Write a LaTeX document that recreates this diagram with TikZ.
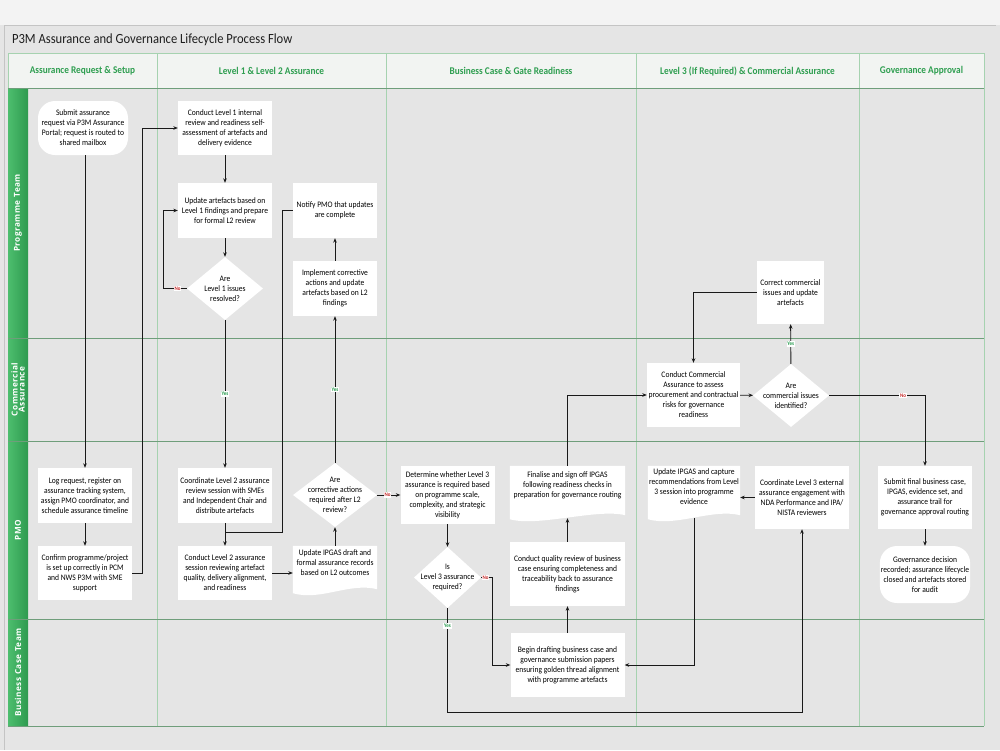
\documentclass[tikz,border=0pt]{standalone}
\usepackage{fontspec}
\setmainfont{Carlito}
\newfontfamily\boxfont{Carlito}[FakeStretch=0.9]
\newfontfamily\lanefont{Open Sans}[LetterSpace=6]
\usetikzlibrary{shapes.geometric,arrows.meta,calc}
\pgfdeclarelayer{under}
\pgfsetlayers{under,main}
\definecolor{bggray}{HTML}{E5E5E5}
\definecolor{topgray}{HTML}{F3F3F3}
\definecolor{framegray}{HTML}{C4C4C4}
\definecolor{hdrfill}{HTML}{F2F4F2}
\definecolor{hdrgreen}{HTML}{2E9E50}
\definecolor{collight}{HTML}{A6D2B0}
\definecolor{lanedark}{HTML}{6F9E7B}
\definecolor{bandlight}{HTML}{4DBE6E}
\definecolor{banddark}{HTML}{2E9A4F}
\definecolor{nored}{HTML}{C62828}
\definecolor{yesgreen}{HTML}{22984A}
\definecolor{titlegray}{HTML}{1E1E1E}
\newcommand{\docshape}[1]{\fill[white] (#1.north west) -- (#1.north east) -- ([yshift=3pt]#1.south east) .. controls ([xshift=-28pt,yshift=10pt]#1.south east) and ([xshift=28pt,yshift=-9pt]#1.south west) .. ([yshift=-1pt]#1.south west) -- cycle;}
\begin{document}
\begin{tikzpicture}[x=1pt,y=-1pt,
  boxtxt/.style={font=\boxfont\fontsize{8.4}{10}\selectfont, align=center, text=black},
  box/.style={boxtxt, fill=white, inner sep=1pt, minimum width=94pt, minimum height=55pt},
  term/.style={box, rounded corners=17pt},
  docnode/.style={boxtxt, inner sep=1pt},
  dia/.style={diamond, fill=white, inner sep=0pt},
  arr/.style={-{Stealth[length=4.5pt,width=3.6pt]}, line width=0.9pt, black!90},
  ln/.style={line width=0.9pt, black!90},
  nolab/.style={fill=white, text=nored, font=\boxfont\bfseries\fontsize{5.5}{6}\selectfont, inner sep=0.8pt},
  yeslab/.style={fill=white, text=yesgreen, font=\boxfont\bfseries\fontsize{5.5}{6}\selectfont, inner sep=0.8pt},
  hdr/.style={font=\boxfont\bfseries\fontsize{10.3}{12}\selectfont, text=hdrgreen},
  lanelab/.style={rotate=90, font=\lanefont\bfseries\fontsize{8.2}{9}\selectfont, text=white, align=center}
]
\useasboundingbox (0,0) rectangle (1000,750);
\begin{pgfonlayer}{under}
\fill[bggray] (0,0) rectangle (1000,750);
\fill[topgray] (0,0) rectangle (1000,25);
\draw[framegray, line width=0.8pt] (4,25) -- (996,25);
\draw[framegray, line width=0.8pt] (4,25) -- (4,750);
\fill[hdrfill] (8,53) rectangle (984,88);
% column lines
\foreach \cx in {8,157,386,636,859,984} \draw[collight, line width=0.8pt] (\cx,53) -- (\cx,726);
\draw[collight, line width=0.8pt] (8,53) -- (984,53);
% lane bands
\shade[left color=bandlight, right color=banddark] (8,88) rectangle (28,338);
\shade[left color=bandlight, right color=banddark] (8,338) rectangle (28,441);
\shade[left color=bandlight, right color=banddark] (8,441) rectangle (28,619);
\shade[left color=bandlight, right color=banddark] (8,619) rectangle (28,726);
\foreach \ly in {88,338,441,619,726} \draw[lanedark, line width=0.9pt] (8,\ly) -- (984,\ly);
\end{pgfonlayer}

% title and headers
\node[anchor=west, font=\boxfont\fontsize{14}{16}\selectfont, text=titlegray] (title) at (8.5,40) {P3M Assurance and Governance Lifecycle Process Flow};
\node[hdr] (h1) at (82.5,71) {Assurance Request \& Setup};
\node[hdr] (h2) at (271.5,71) {Level 1 \& Level 2 Assurance};
\node[hdr] (h3) at (511,71) {Business Case \& Gate Readiness};
\node[hdr] (h4) at (747.5,71) {Level 3 (If Required) \& Commercial Assurance};
\node[hdr] (h5) at (921.5,71) {Governance Approval};

% lane labels
\node[lanelab] (lp) at (18,213) {Programme Team};
\node[lanelab] (lc) at (18,389.5) {Commercial\\[-2pt]Assurance};
\node[lanelab] (lm) at (18,530) {PMO};
\node[lanelab] (lb) at (18,672.5) {Business Case Team};

% nodes
\node[term, minimum width=90pt, minimum height=54pt] (submit) at (83,128) {Submit assurance\\request via P3M Assurance\\Portal; request is routed to\\shared mailbox};
\node[box, minimum height=54pt] (l1) at (225,128) {Conduct Level 1 internal\\review and readiness self-\\assessment of artefacts and\\delivery evidence};
\node[box] (upd1) at (225,210.5) {Update artefacts based on\\Level 1 findings and prepare\\for formal L2 review};
\node[dia, minimum width=76pt, minimum height=63pt, label={[boxtxt]center:Are\\Level 1 issues\\resolved?}] (d1) at (225,288.5) {};
\node[box, minimum width=84pt] (notify) at (335,210.5) {Notify PMO that updates\\are complete};
\node[box, minimum width=84pt] (impl) at (335,288.5) {Implement corrective\\actions and update\\artefacts based on L2\\findings};
\node[box] (log) at (85,495.5) {Log request, register on\\assurance tracking system,\\assign PMO coordinator, and\\schedule assurance timeline};
\node[box, minimum height=54pt] (confirm) at (85,573) {Confirm programme/project\\is set up correctly in PCM\\and NWS P3M with SME\\support};
\node[box] (coord2) at (225,495.5) {Coordinate Level 2 assurance\\review session with SMEs\\and Independent Chair and\\distribute artefacts};
\node[box, minimum height=54pt] (cond2) at (225,573) {Conduct Level 2 assurance\\session reviewing artefact\\quality, delivery alignment,\\and readiness};
\node[dia, minimum width=84pt, minimum height=64pt, label={[boxtxt]center:Are\\corrective actions\\required after L2\\review?}] (d2) at (335,495) {};
\node[docnode, minimum width=84pt, minimum height=46pt] (ipgas2) at (335,569) {Update IPGAS draft and\\formal assurance records\\based on L2 outcomes\\[3pt]};
\node[box, minimum height=58pt] (det) at (447.5,495) {Determine whether Level 3\\assurance is required based\\on programme scale,\\complexity, and strategic\\visibility};
\node[dia, minimum width=67pt, minimum height=61pt, label={[boxtxt]center:Is\\Level 3 assurance\\required?}] (d3) at (447.5,577.5) {};
\node[docnode, minimum width=115pt, minimum height=52pt] (final) at (567.5,492) {Finalise and sign off IPGAS\\following readiness checks in\\preparation for governance routing\\[4pt]};
\node[box, minimum width=115pt, minimum height=64pt] (qual) at (567.5,574) {Conduct quality review of business\\case ensuring completeness and\\traceability back to assurance\\findings};
\node[box, minimum width=114pt, minimum height=64pt] (draft) at (567.5,665) {Begin drafting business case and\\governance submission papers\\ensuring golden thread alignment\\with programme artefacts};
\node[box, minimum width=93pt, minimum height=64pt] (comm) at (693.5,395) {Conduct Commercial\\Assurance to assess\\procurement and contractual\\risks for governance\\readiness};
\node[dia, minimum width=76pt, minimum height=63pt, label={[boxtxt]center:Are\\commercial issues\\identified?}] (d4) at (791,395.5) {};
\node[box, minimum width=67pt, minimum height=63pt] (corr) at (790.5,292.5) {Correct commercial\\issues and update\\artefacts};
\node[docnode, minimum width=92pt, minimum height=52pt] (ipgas3) at (694,492) {Update IPGAS and capture\\recommendations from Level\\3 session into programme\\evidence\\[0pt]};
\node[box, minimum height=63pt] (coordl3) at (802,497.5) {Coordinate Level 3 external\\assurance engagement with\\NDA Performance and IPA/\\NISTA reviewers};
\node[box, minimum height=63pt] (subm) at (925,497.5) {Submit final business case,\\IPGAS, evidence set, and\\assurance trail for\\governance approval routing};
\node[term, minimum width=86pt, minimum height=57pt] (gov) at (925,574.5) {Governance decision\\recorded; assurance lifecycle\\closed and artefacts stored\\for audit};

\begin{pgfonlayer}{under}
\docshape{ipgas2}
\docshape{final}
\docshape{ipgas3}
\end{pgfonlayer}

% connectors
\draw[arr] (submit.south -| log.north) -- (log.north);
\draw[arr] (log) -- (confirm);
\draw[arr] (confirm.east) -- ++(10,0) |- (l1.west);
\draw[arr] (l1) -- (upd1);
\draw[arr] (upd1) -- (d1);
\draw[arr] (d1.west) -- node[nolab, pos=0.4]{No} ++(-23,0) |- (upd1.west);
\draw[arr] (d1) -- node[yeslab, pos=0.5]{Yes} (coord2);
\coordinate (j1) at ($(coord2.south)!0.4!(cond2.north)$);
\draw[arr] (coord2) -- (cond2);
\draw[ln] (notify.west) -- ++(-10,0) |- (j1);
\draw[arr] (cond2.east) -- (cond2.east -| ipgas2.west);
\draw[arr] (ipgas2) -- (d2);
\draw[arr] (d2) -- node[yeslab, pos=0.5]{Yes} (impl);
\draw[arr] (impl) -- (notify);
\draw[arr] (d2) -- node[nolab, pos=0.45]{No} (det);
\draw[arr] (det) -- (d3);
\draw[arr] (d3.east) -- node[nolab, pos=0.4]{No} ++(11,0) |- (draft.west);
\draw[arr] (d3.south) -- node[yeslab, pos=0.17]{Yes} ++(0,104.5) -| (coordl3.south);
\draw[arr] (draft) -- (qual);
\draw[arr] (qual) -- (final);
\draw[arr] (final.north) |- (comm.west);
\draw[arr] (comm) -- (d4);
\draw[arr] (d4) -- node[yeslab, pos=0.5]{Yes} (corr);
\draw[arr] (corr.west) -| (comm.north);
\draw[arr] (d4.east) -| node[nolab, pos=0.385]{No} (subm.north);
\draw[arr] (coordl3.west) -- (coordl3.west -| ipgas3.east);
\draw[arr] (ipgas3.south) |- (draft.east);
\draw[arr] (subm) -- (gov);
\end{tikzpicture}
\end{document}
